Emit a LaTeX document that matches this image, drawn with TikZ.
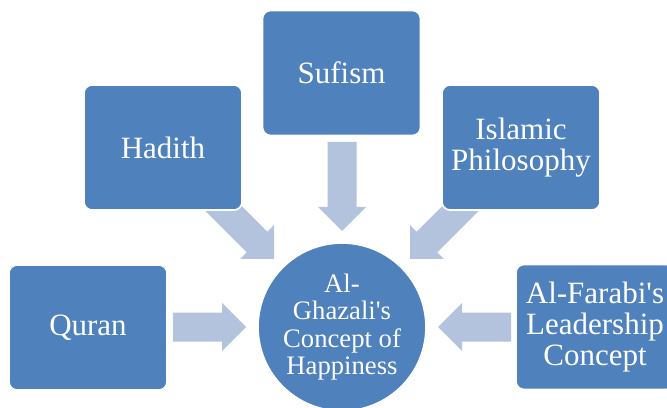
\documentclass[tikz,border=0pt]{standalone}
\usepackage{fontspec}
\setmainfont{Liberation Serif}
\newfontfamily\tnr{Liberation Serif}
\definecolor{boxblue}{HTML}{4F81BD}
\definecolor{arrblue}{HTML}{B3C3DE}
\tikzset{
  srcbox/.style={rectangle, rounded corners=6pt, fill=boxblue, draw=white, line width=1.3pt,
    minimum width=118.5pt, minimum height=93.75pt, inner sep=0pt, text=white, align=center,
    font=\tnr\fontsize{23.25}{23.5}\selectfont},
  hub/.style={circle, fill=boxblue, draw=white, line width=1.3pt, minimum size=126pt,
    inner sep=0pt, text=white, align=center, font=\tnr\fontsize{20}{20.6}\selectfont},
  arrowfill/.style={fill=arrblue}
}
\newcommand\blockarr[3]{\fill[arrowfill,shift={#1},rotate=#2] (0,0) -- (-24,24) -- (-24,14.5) -- (-#3,14.5) -- (-#3,-14.5) -- (-24,-14.5) -- (-24,-24) -- cycle;}
\begin{document}
\begin{tikzpicture}[x=0.75pt,y=0.75pt]
\useasboundingbox (0,0) rectangle (667,407);
\clip (0,0) rectangle (667,407);
\fill[white] (0,0) rectangle (667,407);
\coordinate (tq) at (246,80);
\coordinate (tf) at (438,80);
\coordinate (ts) at (342,176);
\coordinate (th) at (274,148);
\coordinate (tp) at (410,148);
\blockarr{(tq)}{0}{73}
\blockarr{(tf)}{180}{73}
\blockarr{(ts)}{-90}{89}
\blockarr{(th)}{-45}{89}
\blockarr{(tp)}{-135}{89}
\node[srcbox] (quran) at (88,79.5) {Quran};
\node[srcbox] (hadith) at (163,259.5) {Hadith};
\node[srcbox] (sufism) at (341.5,334) {Sufism};
\node[srcbox] (phil) at (521,259.5) {Islamic\\Philosophy};
\node[srcbox] (farabi) at (595,80) {Al-Farabi\textquotesingle s\\Leadership\\Concept};
\node[hub] (hub) at (342,80) {Al-\\Ghazali\textquotesingle s\\Concept of\\Happiness};
\end{tikzpicture}
\end{document}
